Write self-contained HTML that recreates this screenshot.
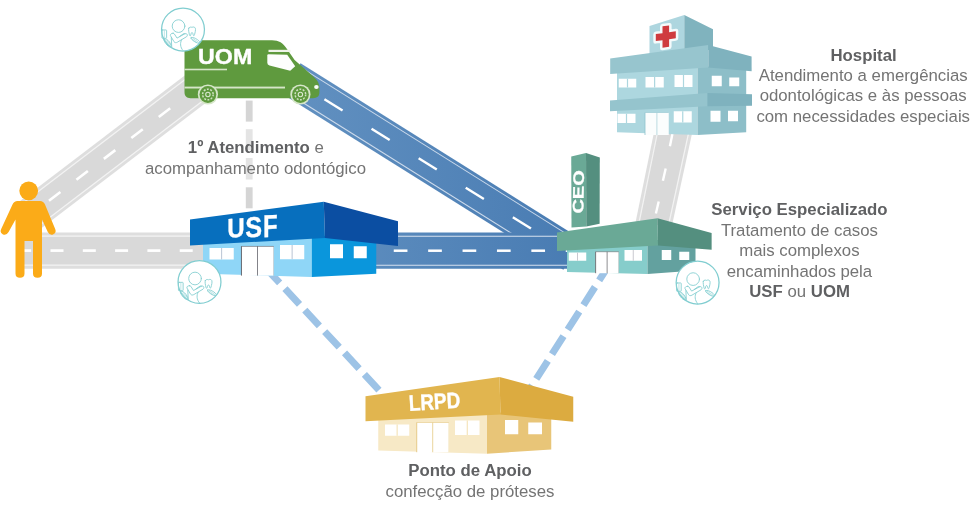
<!DOCTYPE html>
<html lang="pt-BR"><head><meta charset="utf-8"><title>Rede de atendimento odontológico</title>
<style>
html,body{margin:0;padding:0;background:#ffffff;}
body{width:970px;height:517px;overflow:hidden;font-family:"Liberation Sans",Arial,sans-serif;}
#wrap{position:relative;width:970px;height:517px;overflow:hidden;background:#ffffff;}
svg{display:block;position:absolute;left:0;top:0;will-change:transform;}
</style></head><body>
<div id="wrap">
<svg width="970" height="517" viewBox="0 0 970 517" role="img" aria-label="Rede de atendimento odontológico">
<defs>
<linearGradient id="gb" gradientUnits="userSpaceOnUse" x1="300" y1="0" x2="570" y2="0">
<stop offset="0" stop-color="#6190c0"/><stop offset="1" stop-color="#497cb3"/></linearGradient>
</defs>
<rect x="0.00" y="0.00" width="970.00" height="517.00" fill="#ffffff" />
<line x1="29.24" y1="215.69" x2="200.40" y2="85.33" stroke="#dedede" stroke-width="34.50" />
<line x1="29.24" y1="215.69" x2="200.40" y2="85.33" stroke="#f3f3f3" stroke-width="29.00" />
<line x1="29.24" y1="215.69" x2="200.40" y2="85.33" stroke="#d9d9d9" stroke-width="26.40" />
<line x1="48.97" y1="200.66" x2="60.43" y2="191.94" stroke="#ffffff" stroke-width="2.60"/>
<line x1="76.42" y1="179.76" x2="87.87" y2="171.03" stroke="#ffffff" stroke-width="2.60"/>
<line x1="103.86" y1="158.86" x2="115.32" y2="150.13" stroke="#ffffff" stroke-width="2.60"/>
<line x1="131.31" y1="137.95" x2="142.77" y2="129.23" stroke="#ffffff" stroke-width="2.60"/>
<line x1="158.76" y1="117.05" x2="170.21" y2="108.32" stroke="#ffffff" stroke-width="2.60"/>
<line x1="186.20" y1="96.15" x2="197.66" y2="87.42" stroke="#ffffff" stroke-width="2.60"/>
<polygon points="654.45,130.00 692.80,130.00 672.10,225.00 635.00,225.00" fill="#dedede" />
<polygon points="657.40,130.00 689.90,130.00 669.20,225.00 637.90,225.00" fill="#f3f3f3" />
<polygon points="658.60,130.00 688.60,130.00 667.90,225.00 639.20,225.00" fill="#d9d9d9" />
<line x1="672.40" y1="134.00" x2="669.90" y2="146.30" stroke="#ffffff" stroke-width="2.4"/>
<line x1="665.70" y1="168.40" x2="662.90" y2="180.80" stroke="#ffffff" stroke-width="2.4"/>
<line x1="658.70" y1="201.40" x2="655.90" y2="213.50" stroke="#ffffff" stroke-width="2.4"/>
<line x1="291.13" y1="78.36" x2="572.75" y2="254.75" stroke="url(#gb)" stroke-width="35.50" />
<line x1="291.13" y1="78.36" x2="572.75" y2="254.75" stroke="#cfdcec" stroke-width="29.70" />
<line x1="291.13" y1="78.36" x2="572.75" y2="254.75" stroke="url(#gb)" stroke-width="27.70" />
<line x1="324.43" y1="99.22" x2="342.57" y2="110.58" stroke="#ffffff" stroke-width="2.40"/>
<line x1="371.53" y1="128.72" x2="389.67" y2="140.08" stroke="#ffffff" stroke-width="2.40"/>
<line x1="418.63" y1="158.22" x2="436.77" y2="169.58" stroke="#ffffff" stroke-width="2.40"/>
<line x1="465.73" y1="187.72" x2="483.87" y2="199.08" stroke="#ffffff" stroke-width="2.40"/>
<line x1="512.83" y1="217.22" x2="530.97" y2="228.58" stroke="#ffffff" stroke-width="2.40"/>
<line x1="559.93" y1="246.72" x2="572.75" y2="254.75" stroke="#ffffff" stroke-width="2.40"/>
<line x1="16.50" y1="250.60" x2="215.00" y2="250.60" stroke="#dedede" stroke-width="36.20" />
<line x1="16.50" y1="250.60" x2="215.00" y2="250.60" stroke="#f3f3f3" stroke-width="30.30" />
<line x1="16.50" y1="250.60" x2="215.00" y2="250.60" stroke="#d9d9d9" stroke-width="27.70" />
<line x1="18.20" y1="250.60" x2="31.20" y2="250.60" stroke="#ffffff" stroke-width="2.70"/>
<line x1="50.50" y1="250.60" x2="63.50" y2="250.60" stroke="#ffffff" stroke-width="2.70"/>
<line x1="82.80" y1="250.60" x2="95.80" y2="250.60" stroke="#ffffff" stroke-width="2.70"/>
<line x1="115.10" y1="250.60" x2="128.10" y2="250.60" stroke="#ffffff" stroke-width="2.70"/>
<line x1="147.40" y1="250.60" x2="160.40" y2="250.60" stroke="#ffffff" stroke-width="2.70"/>
<line x1="179.70" y1="250.60" x2="192.70" y2="250.60" stroke="#ffffff" stroke-width="2.70"/>
<line x1="212.00" y1="250.60" x2="215.00" y2="250.60" stroke="#ffffff" stroke-width="2.70"/>
<line x1="370.00" y1="250.70" x2="575.00" y2="250.70" stroke="url(#gb)" stroke-width="36.20" />
<line x1="370.00" y1="250.70" x2="575.00" y2="250.70" stroke="#d6e1ef" stroke-width="30.15" />
<line x1="370.00" y1="250.70" x2="575.00" y2="250.70" stroke="url(#gb)" stroke-width="27.85" />
<line x1="359.35" y1="250.70" x2="373.05" y2="250.70" stroke="#ffffff" stroke-width="2.50"/>
<line x1="393.75" y1="250.70" x2="407.45" y2="250.70" stroke="#ffffff" stroke-width="2.50"/>
<line x1="428.15" y1="250.70" x2="441.85" y2="250.70" stroke="#ffffff" stroke-width="2.50"/>
<line x1="462.55" y1="250.70" x2="476.25" y2="250.70" stroke="#ffffff" stroke-width="2.50"/>
<line x1="496.95" y1="250.70" x2="510.65" y2="250.70" stroke="#ffffff" stroke-width="2.50"/>
<line x1="531.35" y1="250.70" x2="545.05" y2="250.70" stroke="#ffffff" stroke-width="2.50"/>
<line x1="565.75" y1="250.70" x2="575.00" y2="250.70" stroke="#ffffff" stroke-width="2.50"/>
<rect x="245.80" y="100.60" width="6.80" height="21.00" fill="#d5d5d5" />
<rect x="245.80" y="129.20" width="6.80" height="21.00" fill="#d5d5d5" />
<rect x="245.80" y="158.00" width="6.80" height="21.50" fill="#d5d5d5" />
<rect x="245.80" y="187.30" width="6.80" height="21.00" fill="#d5d5d5" />
<rect x="245.80" y="216.00" width="6.80" height="9.00" fill="#d5d5d5" />
<rect x="243.00" y="127.00" width="12.00" height="55.00" fill="#ffffff" opacity="0.36"/>
<line x1="265.10" y1="267.30" x2="382.06" y2="393.38" stroke="#9dc3e6" stroke-width="7" stroke-dasharray="21.4 7.8"/>
<line x1="610.70" y1="262.40" x2="528.77" y2="390.54" stroke="#9dc3e6" stroke-width="7" stroke-dasharray="21.4 7.8"/>
<g fill="#fbab18">
<circle cx="28.7" cy="190.8" r="9.4"/>
<path d="M17.5 201 L40 201 Q43.5 201 45 204.5 L55.2 229 Q56.8 233.2 53 234.6 Q49.6 235.6 47.8 232 L42 219.5 L42 273.5 Q42 277.8 37.5 277.8 Q33 277.8 33 273.5 L33 241 L24.5 241 L24.5 273.5 Q24.5 277.8 20 277.8 Q15.5 277.8 15.5 273.5 L15.5 219.5 L8.6 232 Q6.6 235.6 3 234.4 Q-0.6 232.8 1.2 229 L12.5 204.5 Q14 201 17.5 201 Z"/>
</g>
<g>
<path fill="#5f9a3e" d="M184.5 50 C184.5 43.5 188 40.3 194.5 40.3 L272 40.3 C279 40.3 283 43 286.8 48.8 L294.6 60 L312.2 75.6 C317 79.6 319.4 83 319.4 88 L319.4 92.5 C319.4 96.2 317 98.2 313 98.2 L190.5 98.2 C186.5 98.2 184.5 96 184.5 92 Z"/>
<path fill="#fdfefd" d="M268.5 54.3 L287.2 54.8 L295.2 66.2 L290.2 70.8 L269.5 65.6 Q267.3 65 267.3 62.8 L267.3 55.6 Q267.3 54.3 268.5 54.3 Z"/>
<rect x="268.5" y="49.8" width="22" height="2.2" fill="#eef4e8"/>
<rect x="184.5" y="68.7" width="42.5" height="1.6" fill="#d5e5c8"/>
<rect x="184.5" y="86.6" width="100.5" height="1.9" fill="#d5e5c8"/>
<ellipse cx="316.4" cy="86.9" rx="2.3" ry="2" fill="#fafcf8"/>
<circle cx="207.9" cy="94.5" r="10.1" fill="#d6e6c9"/>
<circle cx="207.9" cy="94.5" r="8.4" fill="#5f9a3e"/>
<circle cx="207.9" cy="94.5" r="5.3" fill="none" stroke="#cfe1c2" stroke-width="1.5" stroke-dasharray="1.9 1.43"/>
<circle cx="207.9" cy="94.5" r="2.2" fill="none" stroke="#dbe9d0" stroke-width="1.1"/>
<circle cx="300.4" cy="94.5" r="10.1" fill="#d6e6c9"/>
<circle cx="300.4" cy="94.5" r="8.4" fill="#5f9a3e"/>
<circle cx="300.4" cy="94.5" r="5.3" fill="none" stroke="#cfe1c2" stroke-width="1.5" stroke-dasharray="1.9 1.43"/>
<circle cx="300.4" cy="94.5" r="2.2" fill="none" stroke="#dbe9d0" stroke-width="1.1"/>
</g>
<polygon points="649.50,26.00 684.30,15.10 684.30,50.00 649.50,55.00" fill="#aed6df" />
<polygon points="684.30,15.10 713.00,29.20 713.00,50.00 684.30,50.00" fill="#80b3be" />
<polygon points="617.00,70.00 697.50,66.00 697.50,135.00 617.00,132.30" fill="#add7df" />
<polygon points="697.50,66.00 746.20,69.00 746.20,132.30 697.50,135.00" fill="#8dbec8" />
<rect x="618.75" y="78.75" width="17.50" height="8.75" fill="#ffffff" />
<rect x="626.90" y="78.75" width="1.20" height="8.75" fill="#add7df" />
<rect x="645.50" y="77.00" width="18.25" height="10.50" fill="#ffffff" />
<rect x="654.02" y="77.00" width="1.20" height="10.50" fill="#add7df" />
<rect x="674.50" y="75.00" width="18.00" height="12.00" fill="#ffffff" />
<rect x="682.90" y="75.00" width="1.20" height="12.00" fill="#add7df" />
<rect x="617.50" y="113.75" width="18.00" height="9.25" fill="#ffffff" />
<rect x="625.90" y="113.75" width="1.20" height="9.25" fill="#add7df" />
<rect x="673.75" y="111.25" width="18.00" height="11.25" fill="#ffffff" />
<rect x="682.15" y="111.25" width="1.20" height="11.25" fill="#add7df" />
<rect x="711.75" y="75.75" width="10.00" height="10.50" fill="#ffffff" />
<rect x="729.25" y="77.50" width="10.00" height="8.75" fill="#ffffff" />
<rect x="710.50" y="110.75" width="10.00" height="11.00" fill="#ffffff" />
<rect x="728.00" y="110.75" width="10.00" height="10.50" fill="#ffffff" />
<rect x="645.00" y="112.50" width="23.75" height="22.50" fill="#fbfdfd" />
<rect x="656.40" y="112.50" width="1.00" height="22.50" fill="#bcdbe1" />
<rect x="644.60" y="112.50" width="0.80" height="22.50" fill="#8fc3cd" />
<rect x="645.00" y="112.20" width="23.75" height="0.70" fill="#9ccbd4" />
<polygon points="610.20,58.50 708.30,45.10 708.30,67.60 610.20,73.90" fill="#97c5ce" />
<polygon points="708.30,45.10 751.60,56.40 751.60,71.20 708.30,67.60" fill="#7fb2be" />
<polygon points="610.00,100.50 707.50,93.00 707.50,106.25 610.00,111.25" fill="#95c4cd" />
<polygon points="707.50,93.00 752.00,94.25 752.00,105.75 707.50,106.25" fill="#7fb2be" />
<g transform="translate(665.8,36.3) skewY(-8)">
<path d="M-3.3 -10.4 h6.6 v6.8 h6.7 v7 h-6.7 v7.6 h-6.6 v-7.6 h-6.7 v-7 h6.7 z" fill="#cf3b3f" stroke="#f4fafb" stroke-width="5" stroke-linejoin="round" paint-order="stroke"/>
</g>
<polygon points="571.25,156.50 586.00,153.10 586.30,226.40 571.50,227.50" fill="#6aa996" />
<polygon points="586.00,153.10 599.80,157.50 599.60,223.70 586.30,226.40" fill="#548f7f" />
<polygon points="567.00,240.00 647.50,240.00 647.50,274.00 567.00,272.00" fill="#86cdcb" />
<polygon points="647.50,240.00 695.50,240.00 695.50,270.50 647.50,274.00" fill="#63a19f" />
<rect x="568.75" y="252.50" width="17.50" height="8.25" fill="#ffffff" />
<rect x="577.00" y="252.50" width="1.00" height="8.25" fill="#c9c9d0" />
<rect x="624.50" y="250.00" width="17.50" height="10.75" fill="#ffffff" />
<rect x="632.75" y="250.00" width="1.00" height="10.75" fill="#c9c9d0" />
<rect x="661.75" y="250.00" width="9.50" height="10.00" fill="#ffffff" />
<rect x="679.25" y="251.75" width="10.00" height="8.25" fill="#ffffff" />
<rect x="595.50" y="251.75" width="23.25" height="21.45" fill="#ffffff" />
<rect x="595.20" y="251.75" width="0.90" height="21.45" fill="#6a6a6e" />
<rect x="606.62" y="251.75" width="1.00" height="21.45" fill="#6a6a6e" opacity="0.75"/>
<rect x="618.35" y="251.75" width="0.60" height="21.45" fill="#6a6a6e" opacity="0.35"/>
<rect x="595.50" y="251.45" width="23.25" height="0.70" fill="#6a6a6e" opacity="0.8"/>
<polygon points="557.00,232.50 657.50,218.25 658.00,245.50 557.00,250.90" fill="#6aa996" />
<polygon points="657.50,218.25 711.60,233.00 711.60,249.70 658.00,245.50" fill="#548f7f" />
<polygon points="203.00,240.00 311.75,235.00 311.75,277.00 203.00,273.75" fill="#8fd6f7" />
<polygon points="311.75,235.00 376.25,240.00 376.25,273.75 311.75,277.00" fill="#0a96dc" />
<rect x="209.50" y="248.00" width="24.25" height="11.50" fill="#ffffff" />
<rect x="221.12" y="248.00" width="1.00" height="11.50" fill="#b9c4d4" />
<rect x="280.00" y="245.00" width="24.25" height="14.25" fill="#ffffff" />
<rect x="291.62" y="245.00" width="1.00" height="14.25" fill="#b9c4d4" />
<rect x="330.00" y="244.25" width="13.00" height="14.00" fill="#ffffff" />
<rect x="353.75" y="246.25" width="13.00" height="12.00" fill="#ffffff" />
<rect x="241.25" y="246.25" width="32.50" height="29.35" fill="#ffffff" />
<rect x="240.95" y="246.25" width="0.90" height="29.35" fill="#5a5a62" />
<rect x="257.00" y="246.25" width="1.00" height="29.35" fill="#5a5a62" opacity="0.75"/>
<rect x="273.35" y="246.25" width="0.60" height="29.35" fill="#5a5a62" opacity="0.35"/>
<rect x="241.25" y="245.95" width="32.50" height="0.70" fill="#5a5a62" opacity="0.8"/>
<polygon points="190.00,219.50 323.75,201.75 325.00,237.90 190.00,245.60" fill="#076fbe" />
<polygon points="323.75,201.75 398.00,221.25 398.00,245.90 325.00,237.90" fill="#0b4ea2" />
<polygon points="378.25,415.00 487.00,412.00 487.00,453.75 378.25,450.50" fill="#f7e9c6" />
<polygon points="487.00,412.00 551.25,415.00 551.25,449.50 487.00,453.75" fill="#e8c578" />
<rect x="385.00" y="424.50" width="24.25" height="11.25" fill="#ffffff" />
<rect x="396.62" y="424.50" width="1.00" height="11.25" fill="#f3dfae" />
<rect x="455.00" y="420.50" width="24.50" height="14.50" fill="#ffffff" />
<rect x="466.75" y="420.50" width="1.00" height="14.50" fill="#f3dfae" />
<rect x="505.00" y="420.00" width="13.25" height="14.25" fill="#ffffff" />
<rect x="528.25" y="422.50" width="13.75" height="11.75" fill="#ffffff" />
<rect x="416.60" y="422.50" width="32.20" height="29.70" fill="#ffffff" />
<rect x="416.30" y="422.50" width="0.90" height="29.70" fill="#e3c57c" />
<rect x="432.20" y="422.50" width="1.00" height="29.70" fill="#e3c57c" opacity="0.75"/>
<rect x="448.40" y="422.50" width="0.60" height="29.70" fill="#e3c57c" opacity="0.35"/>
<rect x="416.60" y="422.20" width="32.20" height="0.70" fill="#e3c57c" opacity="0.8"/>
<polygon points="365.50,396.25 499.50,377.00 500.50,414.50 365.50,421.25" fill="#e1b54f" />
<polygon points="499.50,377.00 573.25,396.75 573.25,421.75 500.50,414.50" fill="#dcab40" />
<g transform="translate(183.0 29.6)">
<circle cx="0" cy="0" r="21.45" fill="#ffffff" stroke="#80cdd0" stroke-width="1.25"/>
<g transform="translate(0.1,0.4) scale(0.0755) translate(-292.4,-198.6)" fill="none" stroke="#86cfd2" stroke-width="12" stroke-linecap="round" stroke-linejoin="round">
<circle cx="232" cy="147" r="84"/>
<path d="M160 242 C140 242 120 252 124 272 L172 354 C182 368 200 370 216 360 L338 288 C352 278 352 258 340 250 C332 244 322 246 314 250 L212 306 L176 250 C172 244 166 242 160 242 Z"/>
<path d="M246 284 L300 246 L318 248"/>
<path d="M136 300 L142 428"/>
<path d="M272 330 C252 368 250 424 292 472"/>
<rect x="12" y="198" width="62" height="110" rx="8"/>
<path d="M44 210 L44 296" stroke-width="7"/>
<path d="M40 320 C60 308 86 324 112 358 C136 390 140 416 128 422 C112 428 84 408 62 376 C42 348 30 328 40 320 Z"/>
<path d="M58 338 L118 404 M76 334 L128 396" stroke-width="7"/>
<path transform="translate(-6,-12)" d="M374 186 C384 168 404 170 416 176 C430 168 452 168 460 186 C468 208 456 246 450 272 C446 290 436 292 432 274 C428 256 424 244 416 244 C408 244 404 258 400 276 C396 294 386 292 382 274 C378 246 364 210 374 186 Z"/>
<path d="M398 300 C418 290 450 304 482 326 C510 346 520 360 512 368 C500 378 470 370 440 350 C410 330 390 310 398 300 Z"/>
<path d="M420 308 L496 360 M408 318 L470 362" stroke-width="7"/>
</g></g>
<g transform="translate(199.5 282.0)">
<circle cx="0" cy="0" r="21.45" fill="#ffffff" stroke="#80cdd0" stroke-width="1.25"/>
<g transform="translate(0.1,0.4) scale(0.0755) translate(-292.4,-198.6)" fill="none" stroke="#86cfd2" stroke-width="12" stroke-linecap="round" stroke-linejoin="round">
<circle cx="232" cy="147" r="84"/>
<path d="M160 242 C140 242 120 252 124 272 L172 354 C182 368 200 370 216 360 L338 288 C352 278 352 258 340 250 C332 244 322 246 314 250 L212 306 L176 250 C172 244 166 242 160 242 Z"/>
<path d="M246 284 L300 246 L318 248"/>
<path d="M136 300 L142 428"/>
<path d="M272 330 C252 368 250 424 292 472"/>
<rect x="12" y="198" width="62" height="110" rx="8"/>
<path d="M44 210 L44 296" stroke-width="7"/>
<path d="M40 320 C60 308 86 324 112 358 C136 390 140 416 128 422 C112 428 84 408 62 376 C42 348 30 328 40 320 Z"/>
<path d="M58 338 L118 404 M76 334 L128 396" stroke-width="7"/>
<path transform="translate(-6,-12)" d="M374 186 C384 168 404 170 416 176 C430 168 452 168 460 186 C468 208 456 246 450 272 C446 290 436 292 432 274 C428 256 424 244 416 244 C408 244 404 258 400 276 C396 294 386 292 382 274 C378 246 364 210 374 186 Z"/>
<path d="M398 300 C418 290 450 304 482 326 C510 346 520 360 512 368 C500 378 470 370 440 350 C410 330 390 310 398 300 Z"/>
<path d="M420 308 L496 360 M408 318 L470 362" stroke-width="7"/>
</g></g>
<g transform="translate(697.6 282.6)">
<circle cx="0" cy="0" r="21.45" fill="#ffffff" stroke="#80cdd0" stroke-width="1.25"/>
<g transform="translate(0.1,0.4) scale(0.0755) translate(-292.4,-198.6)" fill="none" stroke="#86cfd2" stroke-width="12" stroke-linecap="round" stroke-linejoin="round">
<circle cx="232" cy="147" r="84"/>
<path d="M160 242 C140 242 120 252 124 272 L172 354 C182 368 200 370 216 360 L338 288 C352 278 352 258 340 250 C332 244 322 246 314 250 L212 306 L176 250 C172 244 166 242 160 242 Z"/>
<path d="M246 284 L300 246 L318 248"/>
<path d="M136 300 L142 428"/>
<path d="M272 330 C252 368 250 424 292 472"/>
<rect x="12" y="198" width="62" height="110" rx="8"/>
<path d="M44 210 L44 296" stroke-width="7"/>
<path d="M40 320 C60 308 86 324 112 358 C136 390 140 416 128 422 C112 428 84 408 62 376 C42 348 30 328 40 320 Z"/>
<path d="M58 338 L118 404 M76 334 L128 396" stroke-width="7"/>
<path transform="translate(-6,-12)" d="M374 186 C384 168 404 170 416 176 C430 168 452 168 460 186 C468 208 456 246 450 272 C446 290 436 292 432 274 C428 256 424 244 416 244 C408 244 404 258 400 276 C396 294 386 292 382 274 C378 246 364 210 374 186 Z"/>
<path d="M398 300 C418 290 450 304 482 326 C510 346 520 360 512 368 C500 378 470 370 440 350 C410 330 390 310 398 300 Z"/>
<path d="M420 308 L496 360 M408 318 L470 362" stroke-width="7"/>
</g></g>
<text x="863.60" y="60.75" text-anchor="middle" font-family="'Liberation Sans', Arial, sans-serif" font-size="16.80" fill="#747474"><tspan font-weight="bold" fill="#5f6062">Hospital</tspan></text>
<text x="863.20" y="81.25" text-anchor="middle" font-family="'Liberation Sans', Arial, sans-serif" font-size="16.80" fill="#747474">Atendimento a emergências</text>
<text x="863.20" y="101.40" text-anchor="middle" font-family="'Liberation Sans', Arial, sans-serif" font-size="16.80" fill="#747474">odontológicas e às pessoas</text>
<text x="863.20" y="121.80" text-anchor="middle" font-family="'Liberation Sans', Arial, sans-serif" font-size="16.80" fill="#747474">com necessidades especiais</text>
<text x="799.40" y="215.00" text-anchor="middle" font-family="'Liberation Sans', Arial, sans-serif" font-size="16.80" fill="#747474"><tspan font-weight="bold" fill="#5f6062">Serviço Especializado</tspan></text>
<text x="799.40" y="235.80" text-anchor="middle" font-family="'Liberation Sans', Arial, sans-serif" font-size="16.80" fill="#747474">Tratamento de casos</text>
<text x="799.40" y="255.90" text-anchor="middle" font-family="'Liberation Sans', Arial, sans-serif" font-size="16.80" fill="#747474">mais complexos</text>
<text x="799.40" y="276.60" text-anchor="middle" font-family="'Liberation Sans', Arial, sans-serif" font-size="16.80" fill="#747474">encaminhados pela</text>
<text x="799.60" y="296.80" text-anchor="middle" font-family="'Liberation Sans', Arial, sans-serif" font-size="16.80" fill="#747474"><tspan font-weight="bold" fill="#5f6062">USF</tspan> ou <tspan font-weight="bold" fill="#5f6062">UOM</tspan></text>
<text x="255.85" y="152.90" text-anchor="middle" font-family="'Liberation Sans', Arial, sans-serif" font-size="16.80" fill="#747474"><tspan font-weight="bold" fill="#5f6062">1º Atendimento</tspan> e</text>
<text x="255.50" y="173.70" text-anchor="middle" font-family="'Liberation Sans', Arial, sans-serif" font-size="16.80" fill="#747474">acompanhamento odontógico</text>
<text x="470.00" y="476.30" text-anchor="middle" font-family="'Liberation Sans', Arial, sans-serif" font-size="16.80" fill="#747474"><tspan font-weight="bold" fill="#5f6062">Ponto de Apoio</tspan></text>
<text x="470.00" y="497.00" text-anchor="middle" font-family="'Liberation Sans', Arial, sans-serif" font-size="16.80" fill="#747474">confecção de próteses</text>
<text transform="matrix(1.16100 0.00000 -0.00000 1.09859 198.107 63.780)" font-size="20" font-family="'Liberation Sans', Arial, sans-serif" font-weight="bold" fill="#ffffff" stroke="#ffffff" stroke-width="0.35" stroke-linejoin="round">UOM</text>
<text transform="matrix(0.02278 -1.00000 0.76408 -0.00000 583.204 213.600)" font-size="20" font-family="'Liberation Sans', Arial, sans-serif" font-weight="bold" fill="#ffffff" stroke="#ffffff" stroke-width="0.35" stroke-linejoin="round">CEO</text>
<text transform="matrix(1 -0.0550 0 1 0 0)" font-family="'Liberation Sans', Arial, sans-serif" font-weight="bold" fill="#ffffff" stroke="#ffffff" stroke-width="0.35" stroke-linejoin="round"><tspan x="227.13" y="250.30" font-size="27.06" textLength="17.42" lengthAdjust="spacingAndGlyphs">U</tspan><tspan x="245.25" y="250.94" font-size="28.73" textLength="16.82" lengthAdjust="spacingAndGlyphs">S</tspan><tspan x="262.88" y="251.66" font-size="31.50" textLength="14.59" lengthAdjust="spacingAndGlyphs">F</tspan></text>
<text transform="matrix(0.94560 -0.05727 0.06051 1.12065 409.153 410.877)" font-size="20" font-family="'Liberation Sans', Arial, sans-serif" font-weight="bold" fill="#ffffff" stroke="#ffffff" stroke-width="0.35" stroke-linejoin="round">LRPD</text>
</svg>
</div>
</body></html>
